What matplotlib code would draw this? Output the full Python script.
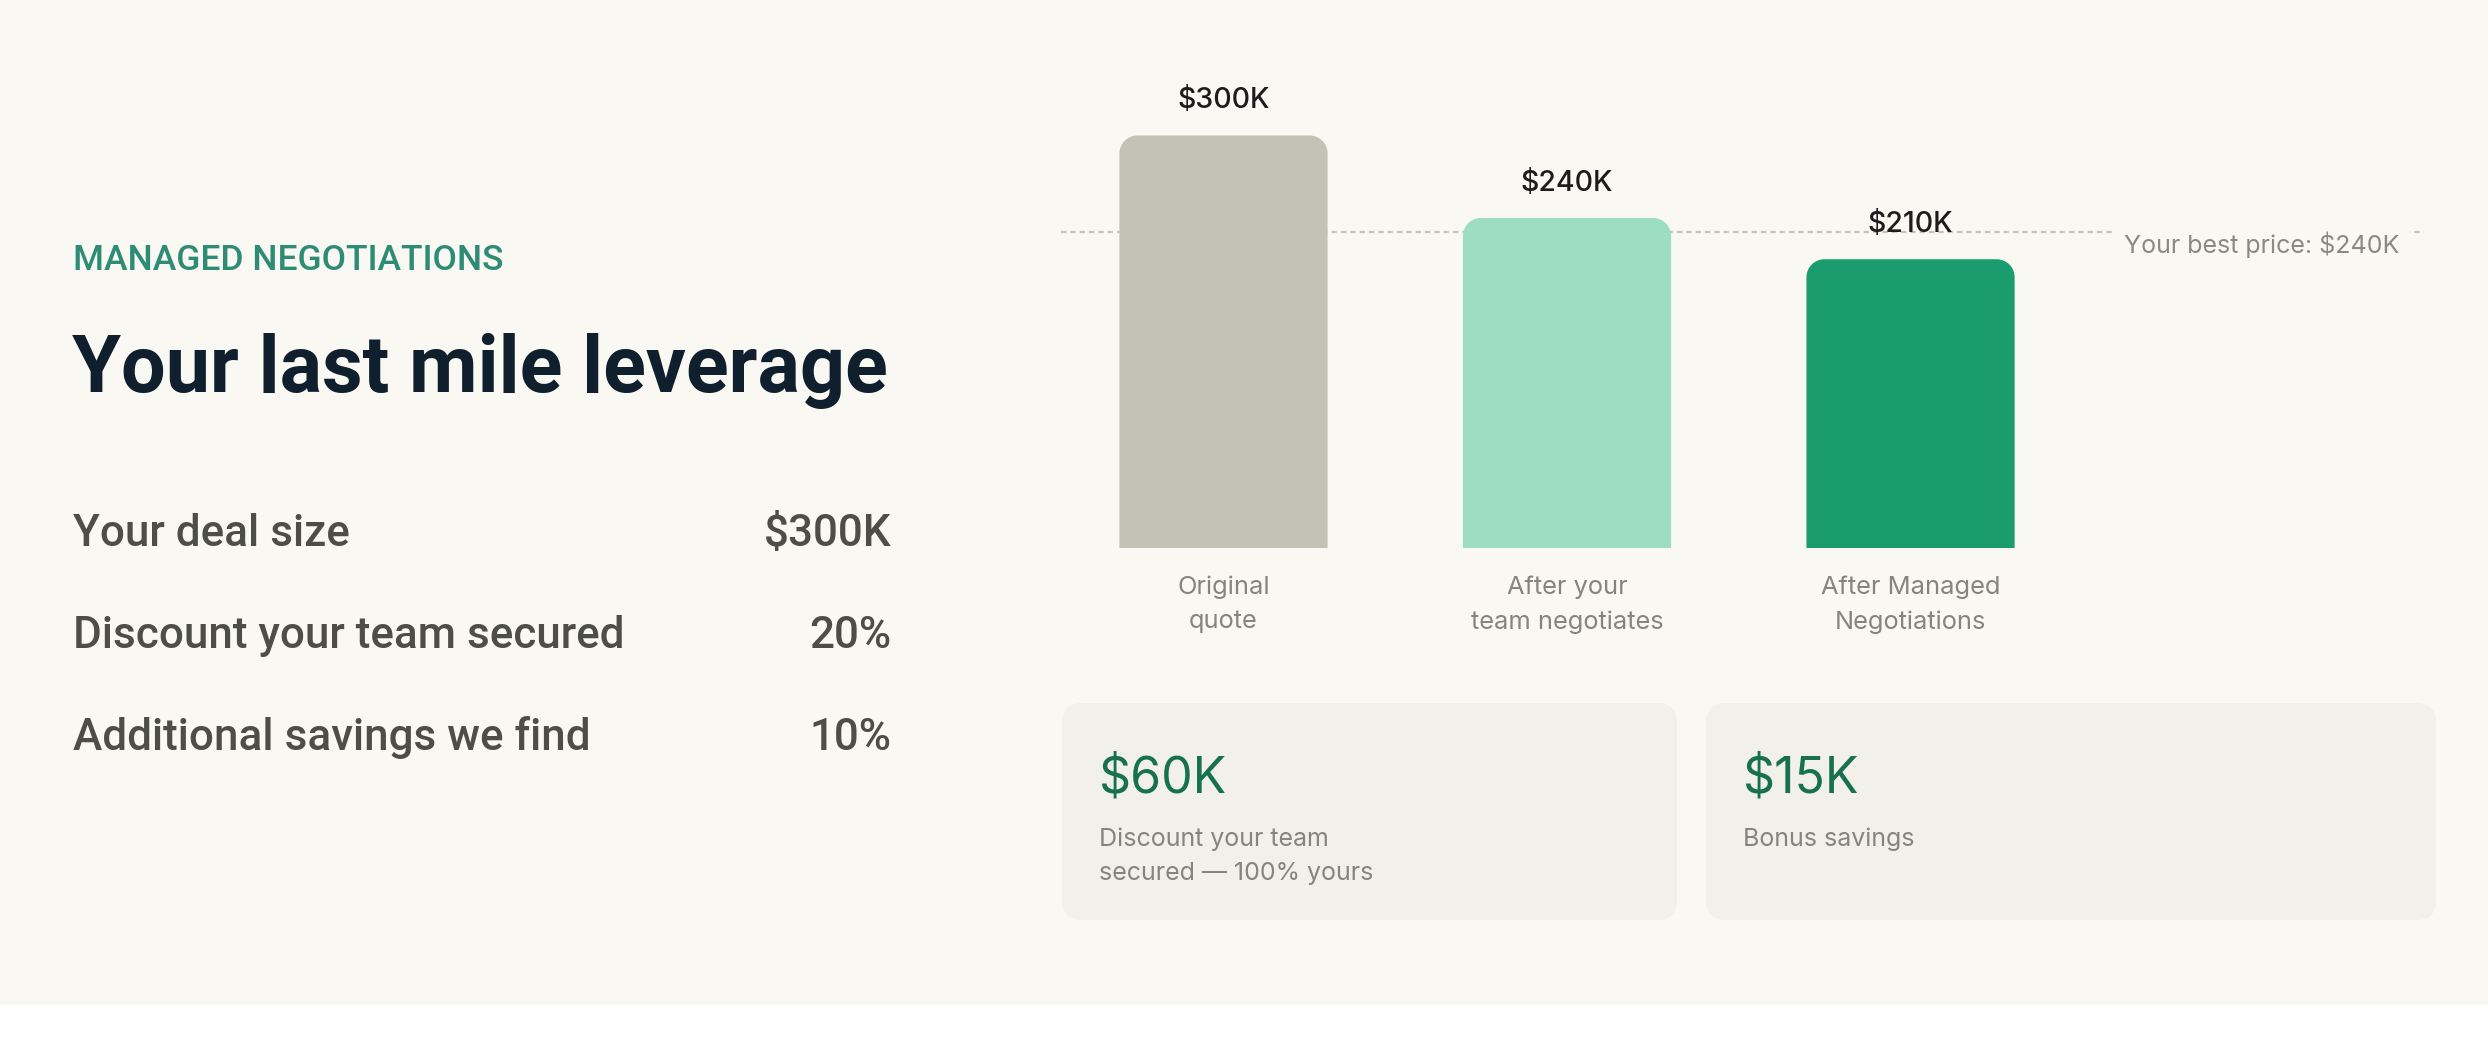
import matplotlib
matplotlib.use("Agg")
import matplotlib.pyplot as plt
from matplotlib.patches import FancyBboxPatch, PathPatch, Rectangle
from matplotlib.path import Path

# ---- data ----
categories = ["Original\nquote", "After your\nteam negotiates", "After Managed\nNegotiations"]
prices_k = [300, 240, 210]
bar_colors = ["#c3c2b4", "#9ddec3", "#1a9c6f"]
best_price_label = "Your best price: $240K"
best_price_line_k = 230  # where the dashed marker sits in the picture

row_labels = ["Your deal size", "Discount your team secured", "Additional savings we find"]
row_values = ["$300K", "20%", "10%"]

card_values = ["$60K", "$15K"]
card_captions = [["Discount your team", "secured \u2014 100% yours"], ["Bonus savings"]]

BG = "#f9f8f3"
CARD = "#f1f0eb"
W, H = 2488, 1050

fig = plt.figure(figsize=(W / 100, H / 100), dpi=100, facecolor="white")

# overlay axes in pixel coordinates (y down) for the layout pieces
bg = fig.add_axes([0, 0, 1, 1])
bg.set_xlim(0, W)
bg.set_ylim(H, 0)
bg.axis("off")
bg.add_patch(Rectangle((0, 0), W, 1005, facecolor=BG, edgecolor="none"))

# left panel
bg.text(73, 270, "MANAGED NEGOTIATIONS", family="Roboto", weight="medium",
        fontsize=25.5, color="#2e8b74", va="baseline")
bg.text(72, 392, "Your last mile leverage", family="Roboto", weight="bold",
        fontsize=57, color="#0f1f2d", va="baseline")
for i, (lab, val) in enumerate(zip(row_labels, row_values)):
    yb = 546 + i * 102
    bg.text(73, yb, lab, family="Roboto", weight="medium", fontsize=31.7,
            color="#4d4d4a", va="baseline")
    bg.text(891, yb, val, family="Roboto", weight="medium", fontsize=31.7,
            color="#4d4d4a", va="baseline", ha="right")

# summary cards
card_boxes = [(1062, 1677), (1706, 2436)]
for (x0, x1), val, cap in zip(card_boxes, card_values, card_captions):
    bg.add_patch(FancyBboxPatch((x0, 703), x1 - x0, 217,
                                boxstyle="round,pad=0,rounding_size=20",
                                facecolor=CARD, edgecolor="none"))
    bg.text(x0 + 37, 793, val, family="Inter", fontsize=36, color="#17704f",
            va="baseline")
    for j, line in enumerate(cap):
        bg.text(x0 + 37, 846 + j * 34, line, family="Inter", fontsize=18,
                color="#85847f", va="baseline")

# ---- bar chart ----
left, right, bottom, top = 1061, 2420, 548, 60
ax = fig.add_axes([left / W, (H - bottom) / H, (right - left) / W, (bottom - top) / H])
ax.patch.set_alpha(0)
x = list(range(len(prices_k)))
ax.set_xlim(-0.473, 3.483)
ax.set_ylim(0, 354.9)
for s in ax.spines.values():
    s.set_visible(False)
ax.set_yticks([])
ax.set_xticks(x, categories)
ax.tick_params(axis="x", length=0, pad=20)
for t in ax.get_xticklabels():
    t.set_family("Inter")
    t.set_fontsize(18.3)
    t.set_color("#85847f")
    t.set_linespacing(1.62)

ax.axhline(best_price_line_k, color="#c4c3bd", lw=1.6, dashes=(2.4, 1.8), zorder=1)

bar_w = 0.606
radius_px = 18
bw_px = (right - left) / (3.483 + 0.473)
bh_px = (bottom - top) / 354.9
rx, ry = radius_px / bw_px, radius_px / bh_px
k = 0.5523
for xi, h, c in zip(x, prices_k, bar_colors):
    x0, x1 = xi - bar_w / 2, xi + bar_w / 2
    verts = [(x0, 0), (x0, h - ry),
             (x0, h - ry + k * ry), (x0 + rx - k * rx, h), (x0 + rx, h),
             (x1 - rx, h),
             (x1 - rx + k * rx, h), (x1, h - ry + k * ry), (x1, h - ry),
             (x1, 0), (x0, 0)]
    codes = [Path.MOVETO, Path.LINETO,
             Path.CURVE4, Path.CURVE4, Path.CURVE4,
             Path.LINETO,
             Path.CURVE4, Path.CURVE4, Path.CURVE4,
             Path.LINETO, Path.CLOSEPOLY]
    ax.add_patch(PathPatch(Path(verts, codes), facecolor=c, edgecolor="none", zorder=2))
    ax.annotate(f"${h}K", (xi, h), xytext=(0, 19.5), textcoords="offset points",
                ha="center", va="baseline", family="Inter", weight="medium",
                fontsize=20.5, color="#1c1c1c", zorder=4)

ax.annotate(best_price_label, (1.0, best_price_line_k), xycoords=("axes fraction", "data"),
            xytext=(-15, -15), textcoords="offset points", ha="right", va="baseline",
            family="Inter", fontsize=18, color="#8a8984", zorder=3,
            bbox=dict(boxstyle="square,pad=0.42", facecolor=BG, edgecolor="none"))

fig.savefig("out.png", dpi=100, facecolor="white")
